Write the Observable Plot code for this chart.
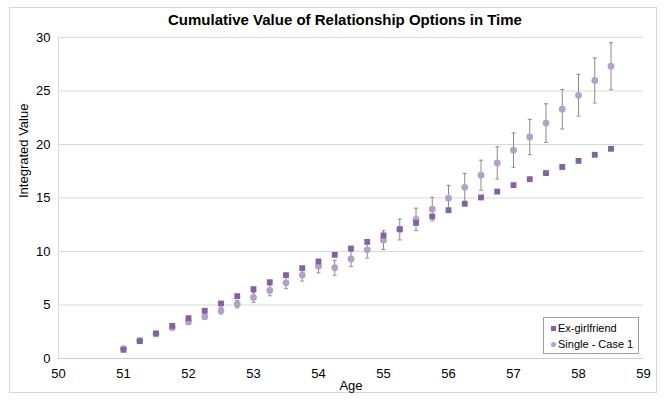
<!DOCTYPE html>
<html><head><meta charset="utf-8">
<script src="https://cdn.jsdelivr.net/npm/d3@7"></script>
<script src="https://cdn.jsdelivr.net/npm/@observablehq/plot@0.6"></script>
<style>
body{margin:0;background:#fff;font-family:"Liberation Sans",Arial,Helvetica,sans-serif;}
#wrap{position:relative;width:665px;height:401px;overflow:hidden;}
#frame{position:absolute;left:9px;top:7px;width:648px;height:386px;border:1px solid #d6d6d6;box-sizing:border-box;}
#title{position:absolute;left:0;width:690px;top:11px;text-align:center;font-weight:bold;font-size:15px;color:#000;}
#chart{position:absolute;left:0;top:0;}
#legend{position:absolute;left:543px;top:317px;width:96px;height:37px;border:1px solid #a0a0a0;box-sizing:border-box;background:#fff;font-size:11px;color:#000;}
#legend div{position:absolute;left:7px;white-space:nowrap;line-height:12px;}
#legend span.m{display:inline-block;width:5px;height:5px;margin-right:2px;vertical-align:1px;}
</style></head>
<body>
<div id="wrap">
<div id="frame"></div>
<div id="chart"></div>
<div id="title">Cumulative Value of Relationship Options in Time</div>
<div id="legend">
  <div style="top:4px"><span class="m" style="background:#8064a2"></span>Ex-girlfriend</div>
  <div style="top:20px"><span class="m" style="background:#b3a2c7;border-radius:50%"></span>Single - Case 1</div>
</div>
</div>
<script>
const ages = [51, 51.25, 51.5, 51.75, 52, 52.25, 52.5, 52.75, 53, 53.25, 53.5, 53.75, 54, 54.25, 54.5, 54.75, 55, 55.25, 55.5, 55.75, 56, 56.25, 56.5, 56.75, 57, 57.25, 57.5, 57.75, 58, 58.25, 58.5];
const exGirlfriend = [0.81, 1.62, 2.34, 3.05, 3.77, 4.46, 5.14, 5.83, 6.48, 7.13, 7.79, 8.44, 9.07, 9.69, 10.28, 10.9, 11.5, 12.09, 12.68, 13.27, 13.86, 14.46, 15.05, 15.6, 16.2, 16.76, 17.33, 17.9, 18.47, 19.04, 19.6];
const singleCase1 = [0.93, 1.68, 2.3, 2.87, 3.4, 3.9, 4.46, 5.08, 5.7, 6.36, 7.07, 7.8, 8.62, 8.48, 9.31, 10.16, 11.06, 12.05, 13.0, 13.96, 14.98, 16.0, 17.13, 18.28, 19.47, 20.7, 22.0, 23.3, 24.6, 25.98, 27.32];
const singleError = [0.05, 0.08, 0.12, 0.15, 0.2, 0.25, 0.3, 0.35, 0.45, 0.5, 0.55, 0.56, 0.62, 0.7, 0.72, 0.78, 0.88, 0.97, 1.05, 1.1, 1.2, 1.3, 1.4, 1.5, 1.6, 1.65, 1.8, 1.85, 1.95, 2.1, 2.2];
const xTicks = [50, 51, 52, 53, 54, 55, 56, 57, 58, 59];
const yTicks = [0, 5, 10, 15, 20, 25, 30];

const exData = ages.map((a, i) => ({age: a, value: exGirlfriend[i]}));
const singleData = ages.map((a, i) => ({age: a, value: singleCase1[i], lo: singleCase1[i] - singleError[i], hi: singleCase1[i] + singleError[i]}));

const capHalf = 0.03;
const chart = Plot.plot({
  width: 665,
  height: 401,
  marginLeft: 58,
  marginRight: 22,
  marginTop: 37,
  marginBottom: 43,
  style: {fontFamily: '"Liberation Sans", Arial, Helvetica, sans-serif', fontSize: "13px", color: "#000", background: "transparent"},
  x: {domain: [50, 59], ticks: xTicks},
  y: {domain: [0, 30], ticks: yTicks},
  marks: [
    Plot.gridY(yTicks, {stroke: "#d9d9d9", strokeOpacity: 1}),
    Plot.ruleX([50], {stroke: "#d9d9d9", strokeOpacity: 1}),
    Plot.ruleY([0], {stroke: "#cfcfcf", strokeOpacity: 1}),
    Plot.axisY(yTicks, {tickSize: 0, tickPadding: 8, fontSize: 13, label: null}),
    Plot.axisX(xTicks, {tickSize: 0, tickPadding: 10, fontSize: 13, label: null}),
    Plot.text(["Age"], {frameAnchor: "bottom", dy: 31, fontSize: 13}),
    Plot.text(["Integrated Value"], {frameAnchor: "left", dx: -35, rotate: -90, fontSize: 13}),
    Plot.ruleX(singleData, {x: "age", y1: "lo", y2: "hi", stroke: "#8a8a8a", strokeWidth: 1}),
    Plot.link(singleData, {x1: d => d.age - capHalf, x2: d => d.age + capHalf, y1: "hi", y2: "hi", stroke: "#8a8a8a", strokeWidth: 1}),
    Plot.link(singleData, {x1: d => d.age - capHalf, x2: d => d.age + capHalf, y1: "lo", y2: "lo", stroke: "#8a8a8a", strokeWidth: 1}),
    Plot.dot(singleData, {x: "age", y: "value", r: 3.4, fill: "#b3a2c7", stroke: "none"}),
    Plot.dot(exData, {x: "age", y: "value", r: 3.3, symbol: "square", fill: "#8064a2", stroke: "none"})
  ]
});
document.getElementById("chart").append(chart);
</script>
</body></html>
